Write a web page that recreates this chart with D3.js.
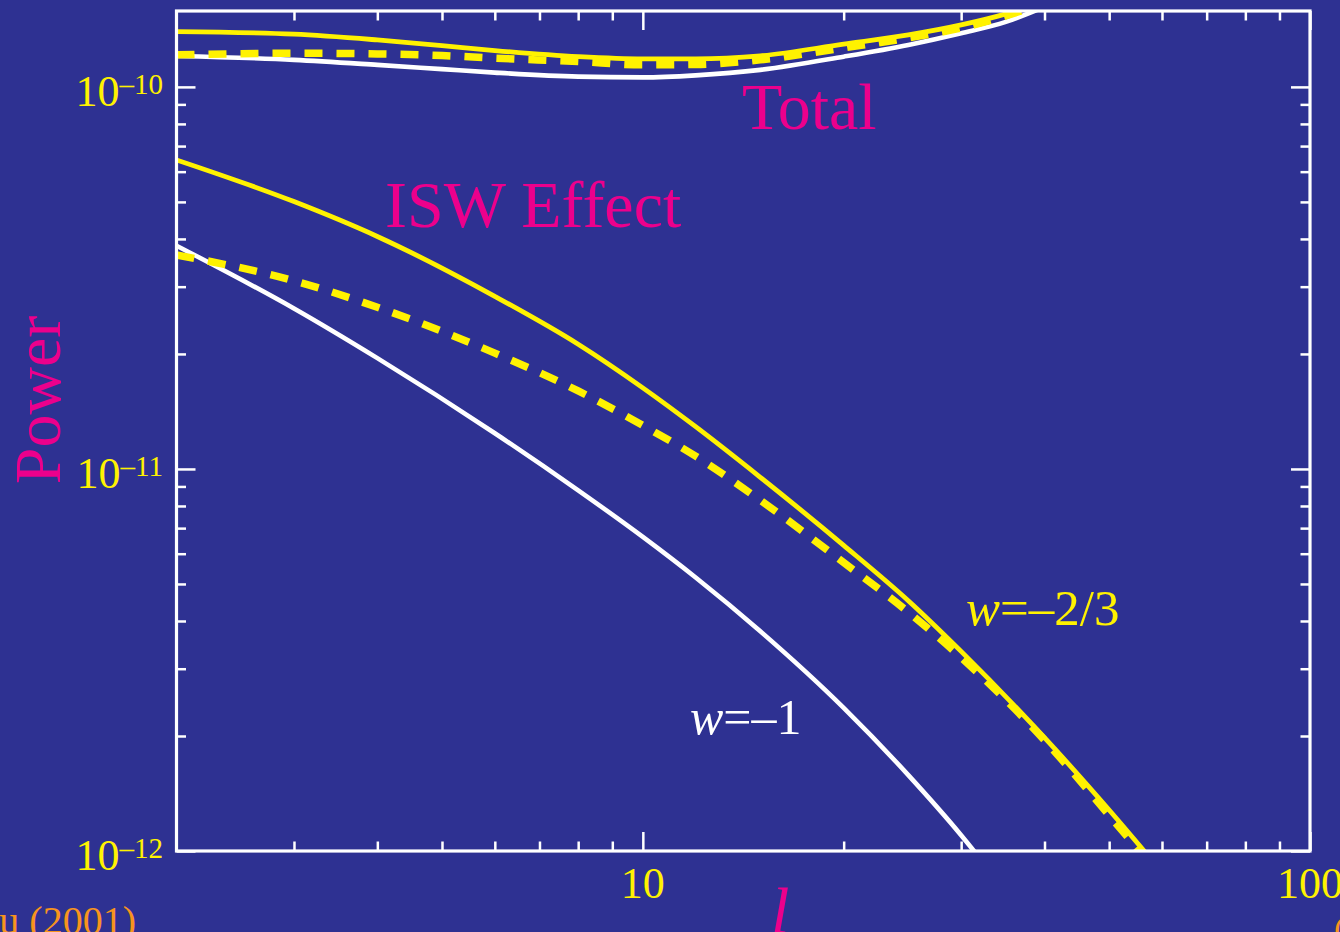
<!DOCTYPE html>
<html><head><meta charset="utf-8">
<script src="https://cdn.jsdelivr.net/npm/d3@7/dist/d3.min.js"></script>
<style>
html,body{margin:0;padding:0;background:#2E3192;overflow:hidden;}
svg{display:block;}
</style></head>
<body>
<svg id="chart" width="1340" height="932"></svg>
<script>
// ---------- data ----------
const lISW = [2,3,4,6,8,10,12,15,20,25,30,40,50,60];
const iswW23 = [6.44e-11,5.01e-11,4.06e-11,2.83e-11,2.12e-11,1.63e-11,1.29e-11,9.51e-12,6.31e-12,4.52e-12,3.33e-12,1.98e-12,1.28e-12,0.88e-12];
const iswW23Dash = [3.63e-11,3.11e-11,2.65e-11,2.01e-11,1.60e-11,1.30e-11,1.08e-11,8.28e-12,5.69e-12,4.22e-12,3.21e-12,1.95e-12,1.24e-12,0.85e-12];
const lISW1 = [2,3,4,6,8,10,12,15,20,25,30,40];
const iswW1 = [3.84e-11,2.63e-11,1.95e-11,1.24e-11,8.79e-12,6.64e-12,5.20e-12,3.76e-12,2.37e-12,1.58e-12,1.10e-12,0.57e-12];

const lTot = [2,3,4,5,6,8,10,12,15,20,25,30,35,40];
const totW23 = [1.396e-10,1.374e-10,1.327e-10,1.282e-10,1.245e-10,1.200e-10,1.184e-10,1.184e-10,1.206e-10,1.294e-10,1.368e-10,1.453e-10,1.553e-10,1.68e-10];
const totW23Dash = [1.213e-10,1.225e-10,1.220e-10,1.208e-10,1.189e-10,1.165e-10,1.142e-10,1.145e-10,1.177e-10,1.265e-10,1.343e-10,1.427e-10,1.534e-10,1.66e-10];
const totW1 = [1.205e-10,1.177e-10,1.142e-10,1.113e-10,1.090e-10,1.064e-10,1.059e-10,1.072e-10,1.108e-10,1.200e-10,1.288e-10,1.382e-10,1.48e-10,1.62e-10];

const xMajor = [10, 100];
const xMinor = [3,4,5,6,7,8,9,20,30,40,50,60,70,80,90];
const xTickLabels = ["10", "100"];
const yMajor = [1e-12, 1e-11, 1e-10];
const yMinor = [2e-12,3e-12,4e-12,5e-12,6e-12,7e-12,8e-12,9e-12,2e-11,3e-11,4e-11,5e-11,6e-11,7e-11,8e-11,9e-11];
const yTickExps = ["\u201312", "\u201311", "\u201310"];

// ---------- setup ----------
const BG = "#2E3192", YEL = "#FFF200", MAG = "#EC008C", WHITE = "#FFFFFF", ORANGE = "#F7941D";
const FONT = "'Liberation Serif','Times New Roman',serif";
const L = 176.5, R = 1310, T = 11, B = 851;

const svg = d3.select("#chart");
svg.append("rect").attr("width",1340).attr("height",932).attr("fill",BG);

const x = d3.scaleLog().domain([2,100]).range([L,R]);
const y = d3.scaleLog().domain([1e-12,1.58e-10]).range([B,T]);

svg.append("clipPath").attr("id","clip").append("rect")
  .attr("x",L).attr("y",T).attr("width",R-L).attr("height",B-T);

// ---------- curves ----------
const line = d3.line().x(d=>x(d[0])).y(d=>y(d[1])).curve(d3.curveMonotoneX);
const zip = (a,b)=>a.map((v,i)=>[v,b[i]]);
const g = svg.append("g").attr("clip-path","url(#clip)");
const series = [
  {l:lISW1, v:iswW1, c:WHITE, w:4.6, dash:null},
  {l:lTot, v:totW1, c:WHITE, w:4.6, dash:null},
  {l:lISW, v:iswW23Dash, c:YEL, w:7.5, dash:"18,14"},
  {l:lTot, v:totW23Dash, c:YEL, w:7.5, dash:"18,14"},
  {l:lISW, v:iswW23, c:YEL, w:4.8, dash:null},
  {l:lTot, v:totW23, c:YEL, w:4.8, dash:null}
];
series.forEach(s=>{
  g.append("path").attr("d",line(zip(s.l,s.v))).attr("fill","none")
   .attr("stroke",s.c).attr("stroke-width",s.w)
   .attr("stroke-dasharray",s.dash);
});

// ---------- axes (ticks inward on all four sides) ----------
const MAJ = 19, MIN = 9.5;
function addAxis(axisFn, scale, vals, size, transform){
  svg.append("g").attr("transform",transform)
    .call(axisFn(scale).tickValues(vals).tickSize(size).tickFormat(""))
    .call(a=>{a.select(".domain").remove();
      a.selectAll(".tick line").attr("stroke",WHITE).attr("stroke-width",2.5);});
}
addAxis(d3.axisBottom, x, xMajor, -MAJ, `translate(0,${B})`);
addAxis(d3.axisBottom, x, xMinor, -MIN, `translate(0,${B})`);
addAxis(d3.axisTop, x, xMajor, -MAJ, `translate(0,${T})`);
addAxis(d3.axisTop, x, xMinor, -MIN, `translate(0,${T})`);
addAxis(d3.axisLeft, y, yMajor, -MAJ, `translate(${L},0)`);
addAxis(d3.axisLeft, y, yMinor, -MIN, `translate(${L},0)`);
addAxis(d3.axisRight, y, yMajor, -MAJ, `translate(${R},0)`);
addAxis(d3.axisRight, y, yMinor, -MIN, `translate(${R},0)`);

svg.append("rect").attr("x",L).attr("y",T).attr("width",R-L).attr("height",B-T)
  .attr("fill","none").attr("stroke",WHITE).attr("stroke-width",3.2);

// tick labels
xMajor.forEach((v,i)=>{
  svg.append("text").attr("x",x(v)).attr("y",898).attr("text-anchor","middle")
    .attr("font-family",FONT).attr("font-size",44).attr("fill",YEL).text(xTickLabels[i]);
});
yMajor.forEach((v,i)=>{
  const t = svg.append("text").attr("x",163).attr("y",y(v)+19).attr("text-anchor","end")
    .attr("font-family",FONT).attr("fill",YEL);
  t.append("tspan").attr("font-size",44).text("10");
  t.append("tspan").attr("font-size",29).attr("dy",-12).text(yTickExps[i]);
});

// axis titles
svg.append("text").attr("transform","translate(60,400) rotate(-90)")
  .attr("text-anchor","middle").attr("font-family",FONT).attr("font-size",66)
  .attr("fill",MAG).text("Power");
svg.append("text").attr("x",771).attr("y",933).attr("font-family",FONT)
  .attr("font-style","italic").attr("font-size",66).attr("fill",MAG).text("l");

// annotations
svg.append("text").attr("x",742).attr("y",129).attr("font-family",FONT)
  .attr("font-size",66).attr("fill",MAG).text("Total");
svg.append("text").attr("x",385).attr("y",227).attr("font-family",FONT)
  .attr("font-size",66).attr("fill",MAG).text("ISW Effect");

function wLabel(xp, yp, rest, col, fs){
  const t = svg.append("text").attr("x",xp).attr("y",yp).attr("font-family",FONT)
    .attr("font-size",fs).attr("fill",col);
  t.append("tspan").attr("font-style","italic").text("w");
  t.append("tspan").text("=\u2013" + rest);
}
wLabel(966, 625, "2/3", YEL, 51);
wLabel(690, 734, "1", WHITE, 50);

// credits (partially off-canvas as in the reference)
svg.append("text").attr("x",136).attr("y",934).attr("text-anchor","end")
  .attr("font-family",FONT).attr("font-size",40).attr("fill",ORANGE).text("Hu (2001)");
svg.append("text").attr("x",1334).attr("y",940)
  .attr("font-family",FONT).attr("font-size",34).attr("fill",ORANGE).text("(");
</script>
</body></html>
